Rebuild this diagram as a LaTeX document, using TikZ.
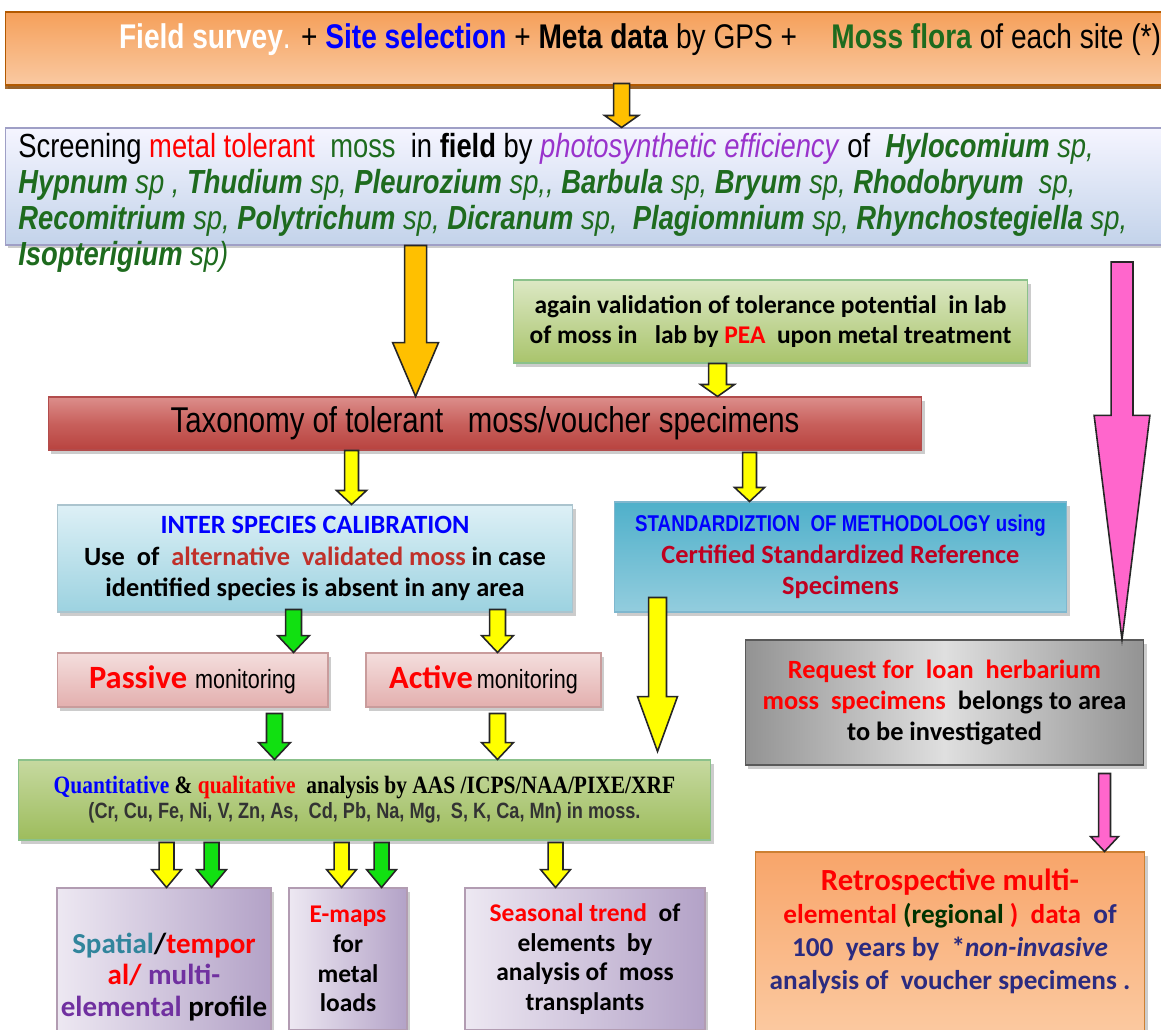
\documentclass[tikz,border=0pt]{standalone}
\usepackage{fontspec}
\setmainfont{Carlito}
\newfontfamily\narrowfont[FakeStretch=0.82]{Liberation Sans}
\newfontfamily\serifnarrow[FakeStretch=0.86]{Liberation Serif}
\usetikzlibrary{calc,shadows}

\definecolor{mossgreen}{HTML}{1E6B1E}
\definecolor{brickred}{HTML}{C0302A}
\definecolor{crimson}{HTML}{C00020}
\definecolor{mosspurple}{HTML}{9933CC}
\definecolor{tealtxt}{HTML}{31859C}
\definecolor{plum}{HTML}{7030A0}
\definecolor{navytxt}{HTML}{2B2B80}
\definecolor{arrorange}{HTML}{FFC000}
\definecolor{arryellow}{HTML}{FFFF00}
\definecolor{arrgreen}{HTML}{11E011}
\definecolor{arrpink}{HTML}{FF66CC}
% box shades
\definecolor{bannertop}{HTML}{F5A05A}
\definecolor{bannerbot}{HTML}{FAC9A2}
\definecolor{screenbot}{HTML}{C3D3EA}
\definecolor{validtop}{HTML}{DCE8C4}
\definecolor{validbot}{HTML}{A9C46C}
\definecolor{taxtop}{HTML}{DC8E8B}
\definecolor{taxmid}{HTML}{C8605C}
\definecolor{taxbot}{HTML}{B8433F}
\definecolor{intertop}{HTML}{DDF0F6}
\definecolor{interbot}{HTML}{9CD2E0}
\definecolor{standtop}{HTML}{4FB0CA}
\definecolor{standbot}{HTML}{93CDDE}
\definecolor{montop}{HTML}{F4DEDD}
\definecolor{monbot}{HTML}{E3AFAE}
\definecolor{quanttop}{HTML}{C6D9A0}
\definecolor{quantbot}{HTML}{9DBC5C}
\definecolor{resleft}{HTML}{EDE8F2}
\definecolor{resright}{HTML}{B3A2C7}
\definecolor{retrotop}{HTML}{F8A56A}
\definecolor{retrobot}{HTML}{FBC9A0}

\tikzset{
  box/.style={line width=0.6pt, align=center, inner sep=2pt,
    drop shadow={opacity=0.4, shadow xshift=1.5pt, shadow yshift=-2pt}},
  bannerbox/.style={box, draw=orange!70!black, top color=bannertop, bottom color=bannerbot,
    drop shadow={fill=orange!55!black, opacity=0.8, shadow xshift=0pt, shadow yshift=-2.5pt}},
  screenbox/.style={box, draw=blue!25!gray!60, top color=blue!4, bottom color=screenbot},
  validbox/.style={box, draw=green!30!gray!70, top color=validtop, bottom color=validbot},
  taxbox/.style={box, draw=red!40!gray, top color=taxtop, bottom color=taxbot, middle color=taxmid},
  interbox/.style={box, draw=cyan!30!gray!60, top color=intertop, bottom color=interbot},
  standbox/.style={box, draw=cyan!50!gray!80, top color=standtop, bottom color=standbot},
  monbox/.style={box, draw=red!30!gray!60, top color=montop, bottom color=monbot},
  reqbox/.style={box, draw=gray!70!black, left color=gray!85, right color=gray!85, middle color=gray!25},
  quantbox/.style={box, draw=green!30!gray!70, top color=quanttop, bottom color=quantbot},
  resultbox/.style={box, draw=violet!30!gray!60, left color=resleft, right color=resright},
  retrobox/.style={box, draw=orange!60!gray, top color=retrotop, bottom color=retrobot},
  fatline/.style={draw=black!85, line width=0.9pt, line join=miter},
}

% fat block arrow: fill, half shaft, half head, head length (px), from, to
\newcommand{\fatarrow}[6]{%
  \draw[fatline, fill=#1] let \p1=#5, \p2=#6 in
    (\x1-#2*0.567pt,\y1) -- (\x1+#2*0.567pt,\y1)
    -- (\x1+#2*0.567pt,\y2+#4*0.567pt) -- (\x1+#3*0.567pt,\y2+#4*0.567pt)
    -- (\x1,\y2) -- (\x1-#3*0.567pt,\y2+#4*0.567pt)
    -- (\x1-#2*0.567pt,\y2+#4*0.567pt) -- cycle;}

\begin{document}
\begin{tikzpicture}[x=0.02cm, y=-0.02cm]
  \useasboundingbox (0,0) rectangle (1161,1030);

  % top row
  \node[bannerbox, minimum width=23.3cm, minimum height=1.46cm] (survey) at (587.5,48.5) {};
  \node[font=\narrowfont\fontsize{19.5}{21}\selectfont] (surveytxt) at (640,40)
    {\textcolor{white}{\textbf{Field survey}.} + \textcolor{blue}{\textbf{Site selection}} + \textbf{Meta data} by GPS +\quad \textcolor{mossgreen}{\textbf{Moss flora}} of each site (*)};

  \node[screenbox, minimum width=23.3cm, minimum height=2.34cm] (screen) at (587.5,186.5) {};
  \node[anchor=north west, inner sep=0pt, align=left, font=\narrowfont\fontsize{19}{20.4}\selectfont] (screentxt) at (18,133)
    {Screening \textcolor{red}{metal tolerant}\ \ \textcolor{mossgreen}{moss}\ \ in \textbf{field} by \textcolor{mosspurple}{\textit{photosynthetic efficiency}} of\ \ \textcolor{mossgreen}{\textit{\textbf{Hylocomium} sp,}}\\
    \color{mossgreen}\itshape\textbf{Hypnum} sp , \textbf{Thudium} sp, \textbf{Pleurozium} sp,, \textbf{Barbula} sp, \textbf{Bryum} sp, \textbf{Rhodobryum}\ \ sp,\\
    \color{mossgreen}\itshape\textbf{Recomitrium} sp, \textbf{Polytrichum} sp, \textbf{Dicranum} sp,\ \ \textbf{Plagiomnium} sp, \textbf{Rhynchostegiella}\ sp,\\
    \color{mossgreen}\itshape\textbf{Isopterigium} sp)};

  \node[validbox, minimum width=10.3cm, minimum height=1.66cm, font=\bfseries\fontsize{14.5}{17}\selectfont] (valid) at (770.5,321.5)
    {again validation of tolerance potential\ \ in lab\\ of moss in\ \ \ lab by \textcolor{red}{PEA}\ \ upon metal\ treatment};

  \node[taxbox, minimum width=17.48cm, minimum height=1.06cm, font=\narrowfont\fontsize{20.4}{22}\selectfont] (tax) at (485,423.5)
    {Taxonomy of tolerant\ \ \ moss/voucher specimens};

  % middle
  \node[interbox, minimum width=10.32cm, minimum height=2.14cm, font=\bfseries\fontsize{15}{18}\selectfont] (inter) at (315,558.5)
    {\textcolor{blue}{INTER\ SPECIES CALIBRATION}\\ Use\ \ of\ \ \textcolor{brickred}{alternative\ \ validated moss} in case\\ identified species is absent in any\ area};
  \node[standbox, minimum width=9.06cm, minimum height=2.2cm, font=\bfseries\fontsize{15}{18}\selectfont] (stand) at (840.5,557)
    {{\narrowfont\fontsize{13}{14}\selectfont\textcolor{blue}{STANDARDIZTION\ \ OF METHODOLOGY using}}\\ \textcolor{crimson}{Certified Standardized Reference}\\ \textcolor{crimson}{Specimens}};

  \node[monbox, minimum width=5.42cm, minimum height=1.08cm] (passive) at (192.5,680)
    {{\bfseries\fontsize{18.5}{20}\selectfont\textcolor{red}{Passive}}\ \ {\narrowfont\fontsize{15}{16}\selectfont monitoring}};
  \node[monbox, minimum width=4.7cm, minimum height=1.08cm] (active) at (483.5,680)
    {{\bfseries\fontsize{18.5}{20}\selectfont\textcolor{red}{Active}} {\narrowfont\fontsize{15}{16}\selectfont monitoring}};

  \node[reqbox, minimum width=7.98cm, minimum height=2.5cm, font=\bfseries\fontsize{15}{17.5}\selectfont] (req) at (944.5,702.5)
    {\textcolor{red}{Request for\ \ loan\ \ herbarium}\\ \textcolor{red}{moss\ \ specimens}\ \ belongs to area\\ to be investigated};

  \node[quantbox, minimum width=13.86cm, minimum height=1.6cm] (quant) at (364.5,800)
    {{\serifnarrow\bfseries\fontsize{14.2}{15}\selectfont\textcolor{blue}{Quantitative} \& \textcolor{red}{qualitative}\ \ analysis by AAS /ICPS/NAA/PIXE/XRF}\\[1pt]
     {\narrowfont\bfseries\fontsize{12.6}{13}\selectfont\color{black!80}(Cr, Cu, Fe, Ni, V, Zn, As,\ \ Cd, Pb, Na, Mg,\ \ S, K, Ca, Mn) in moss.}};

  % bottom row
  \node[resultbox, minimum width=4.28cm, minimum height=3.56cm, font=\bfseries\fontsize{16.5}{18}\selectfont] (spat) at (164,977)
    {\textcolor{tealtxt}{Spatial}/\textcolor{red}{tempor}\\ \textcolor{red}{al/} \textcolor{plum}{multi-}\\ \textcolor{plum}{elemental} profile};
  \node[resultbox, minimum width=2.36cm, minimum height=2.84cm, font=\bfseries\fontsize{14.5}{17}\selectfont] (emap) at (348,959)
    {\textcolor{red}{E-maps}\\ for\\ metal\\ loads};
  \node[resultbox, minimum width=4.8cm, minimum height=2.84cm, font=\bfseries\fontsize{14.5}{17}\selectfont] (season) at (585,959)
    {\textcolor{red}{Seasonal trend}\ \ of\\ elements\ \ by\\ analysis of\ \ moss\\ transplants};

  \node[retrobox, minimum width=7.8cm, minimum height=3.6cm] (retro) at (950,942) {};
  \node[font=\bfseries\fontsize{15.5}{18.8}\selectfont, text=navytxt, align=center] (retrotxt) at (950,931)
    {\textcolor{red}{\fontsize{17.5}{18.8}\selectfont Retrospective multi-}\\ \textcolor{red}{elemental} \textcolor{black!80!green}{(regional} \textcolor{red}{)}\ \ \textcolor{red}{data}\ \ of\\ 100\ \ years by\ \ *\textit{non-invasive}\\ analysis of\ \ voucher specimens\ .};

  \coordinate (pinktop) at (1122,262);

  % arrows
  \fatarrow{arrorange}{8}{17}{12}{($(survey.south west)+(617,-2)$)}{(screen.north)}
  \fatarrow{arrorange}{11}{23}{54}{($(screen.south west)+(411,0)$)}{(tax.north)}
  \fatarrow{arrpink}{11}{28}{225}{(pinktop)}{(req.north)}
  \fatarrow{arryellow}{9}{17}{12}{($(valid.south west)+(205,0)$)}{(tax.north)}
  \fatarrow{arryellow}{7}{15}{14}{($(tax.south west)+(304,0)$)}{(inter.north)}
  \fatarrow{arryellow}{7}{15}{14}{($(tax.south west)+(702,2)$)}{(stand.north)}
  \fatarrow{arrgreen}{8}{16}{17}{($(inter.south west)+(237,-3)$)}{(passive.north)}
  \fatarrow{arryellow}{8}{16}{17}{($(inter.south west)+(441,-3)$)}{(active.north)}
  \fatarrow{arrgreen}{8}{16}{17}{($(passive.south west)+(218,6)$)}{(quant.north)}
  \fatarrow{arryellow}{8}{16}{17}{($(active.south west)+(132,6)$)}{(quant.north)}
  \fatarrow{arryellow}{9}{20}{55}{($(stand.south west)+(44,-15)$)}{($(quant.north)+(0,-8)$)}
  \fatarrow{arryellow}{7.5}{15}{18}{($(quant.south west)+(149,2)$)}{(spat.north)}
  \fatarrow{arrgreen}{7.5}{15}{18}{($(quant.south west)+(194,2)$)}{(spat.north)}
  \fatarrow{arryellow}{7.5}{15}{18}{($(quant.south west)+(324,2)$)}{(emap.north)}
  \fatarrow{arrgreen}{7.5}{15}{18}{($(quant.south west)+(364,2)$)}{(emap.north)}
  \fatarrow{arryellow}{7.5}{15}{18}{($(quant.south west)+(538,2)$)}{(season.north)}
  \fatarrow{arrpink}{6}{14}{15}{($(req.south west)+(360,8)$)}{(retro.north)}
\end{tikzpicture}
\end{document}
